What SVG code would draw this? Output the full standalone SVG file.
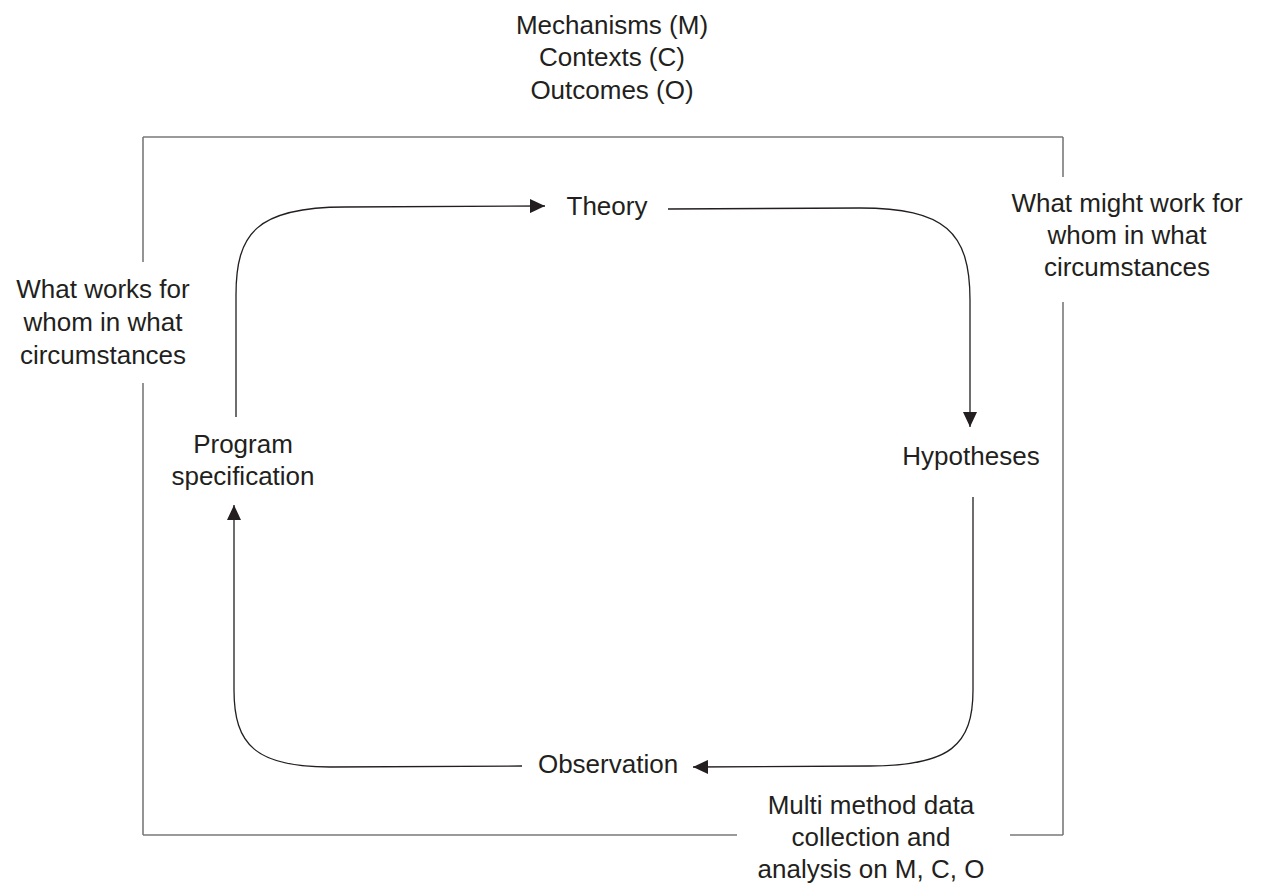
<svg xmlns="http://www.w3.org/2000/svg" width="1264" height="894" viewBox="0 0 1264 894">
<style>
text{font-family:"Liberation Sans",Arial,sans-serif;font-size:26px;fill:#231f20;text-anchor:middle}
.frame{fill:none;stroke:#7a7a7a;stroke-width:1.6}
.conn{fill:none;stroke:#231f20;stroke-width:1.3}
</style>
<defs>
<marker id="arr" markerUnits="userSpaceOnUse" markerWidth="16" markerHeight="14" refX="15" refY="7" orient="auto">
<path d="M0,0 L15,7 L0,14 Z" fill="#231f20"/>
</marker>
</defs>
<rect width="1264" height="894" fill="#ffffff"/>
<g id="frame">
<path class="frame" d="M143,137 H1063 M143,137 V262 M143,383 V835 M1063,137 V177 M1063,302 V835 M143,835 H737 M1010,835 H1063"/>
</g>
<g id="header">
<text x="612" y="34">Mechanisms (M)</text>
<text x="612" y="66">Contexts (C)</text>
<text x="612" y="99">Outcomes (O)</text>
</g>
<g id="connectors">
<path class="conn" marker-end="url(#arr)" d="M236,417 L236,295 C236,234 256,207 345,207 L545,206"/>
<path class="conn" marker-end="url(#arr)" d="M668,209 L860,208 C945,208 970,232 970,300 L970,427"/>
<path class="conn" marker-end="url(#arr)" d="M973,497 L973,690 C973,745 950,766 870,766 L693,767"/>
<path class="conn" marker-end="url(#arr)" d="M522,766 L330,767 C256,767 234,745 234,690 L234,505"/>
</g>
<g id="theory"><text x="607" y="215">Theory</text></g>
<g id="hypotheses"><text x="971" y="465">Hypotheses</text></g>
<g id="observation"><text x="608" y="773">Observation</text></g>
<g id="program"><text x="243" y="453">Program</text><text x="243" y="485">specification</text></g>
<g id="label-left"><text x="103" y="298">What works for</text><text x="103" y="331">whom in what</text><text x="103" y="364">circumstances</text></g>
<g id="label-right"><text x="1127" y="212">What might work for</text><text x="1127" y="244">whom in what</text><text x="1127" y="276">circumstances</text></g>
<g id="label-bottom"><text x="871" y="814">Multi method data</text><text x="871" y="846">collection and</text><text x="871" y="878">analysis on M, C, O</text></g>
</svg>
